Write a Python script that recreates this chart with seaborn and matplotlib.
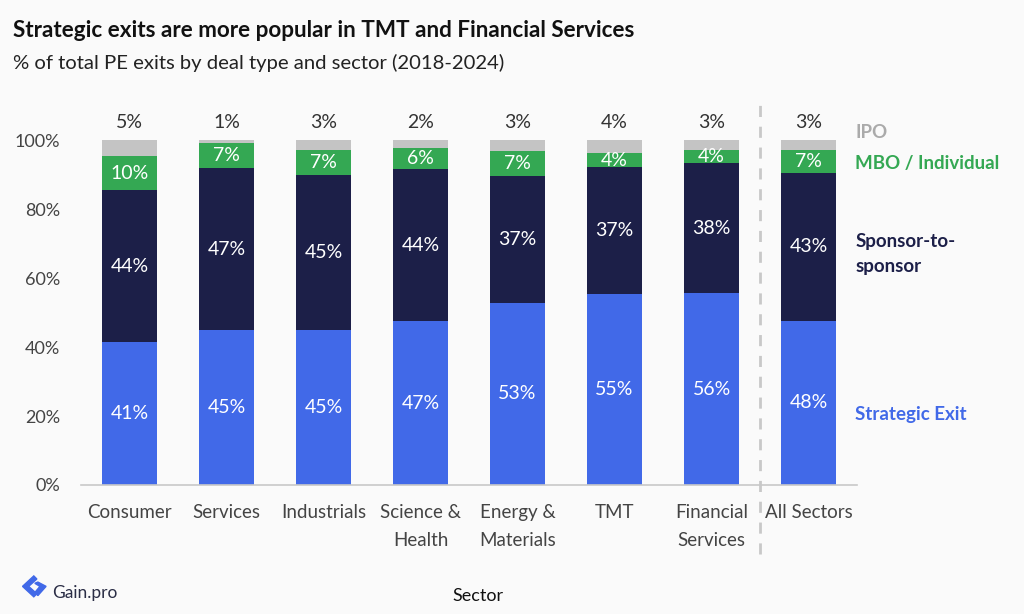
import pandas as pd
import seaborn as sns
import matplotlib.pyplot as plt
from matplotlib.patches import Polygon

# data (share of exits, %)
sectors = ["Consumer", "Services", "Industrials", "Science &\nHealth",
           "Energy &\nMaterials", "TMT", "Financial\nServices", "All Sectors"]
strategic = [41.4, 44.9, 45.0, 47.4, 52.8, 55.4, 55.6, 47.6]
sponsor = [44.1, 47.0, 45.0, 44.2, 36.8, 36.8, 37.8, 42.8]
mbo = [9.8, 7.2, 7.2, 6.2, 7.2, 4.0, 3.6, 6.6]
ipo = [4.7, 0.9, 2.8, 2.2, 3.2, 3.8, 3.0, 3.0]

c_strat = "#4169e8"
c_spons = "#1c1f48"
c_mbo = "#34a853"
c_ipo = "#c4c4c4"
bg = "#fafafa"

df = pd.DataFrame({"sector": sectors, "strategic": strategic, "sponsor": sponsor,
                   "mbo": mbo, "ipo": ipo})
df["lvl2"] = df["strategic"] + df["sponsor"]
df["lvl3"] = df["lvl2"] + df["mbo"]
df["lvl4"] = df["lvl3"] + df["ipo"]

sns.set_style("white")
plt.rcParams["font.family"] = ["Lato", "DejaVu Sans"]

fig = plt.figure(figsize=(10.24, 6.14), dpi=100, facecolor=bg)
ax = fig.add_axes([0.079, 0.2101, 0.758, 0.618])
ax.set_facecolor(bg)

# stacked bars drawn as overlapping cumulative totals
for col, colr in [("lvl4", c_ipo), ("lvl3", c_mbo), ("lvl2", c_spons), ("strategic", c_strat)]:
    sns.barplot(data=df, x="sector", y=col, color=colr, width=0.56, saturation=1,
                ax=ax, linewidth=0)

# segment labels
lab_fs = 14
for i, row in df.iterrows():
    ax.text(i, row["strategic"] / 2, f"{round(row['strategic'])}%", ha="center", va="center",
            color="white", fontsize=lab_fs)
    ax.text(i, row["strategic"] + row["sponsor"] / 2, f"{round(row['sponsor'])}%", ha="center",
            va="center", color="white", fontsize=lab_fs)
    ax.text(i, row["lvl2"] + row["mbo"] / 2, f"{round(row['mbo'])}%", ha="center",
            va="center", color="white", fontsize=lab_fs)
    ax.text(i, row["lvl4"] + 5, f"{round(row['ipo'])}%", ha="center", va="center",
            color="#333333", fontsize=lab_fs)

# series names on the right
lx = 7.48
leg_fs = 13.5
ax.text(lx, 102.3, "IPO", color="#aaaaaa", fontsize=leg_fs, fontweight="bold", va="center")
ax.text(lx, 93.3, "MBO / Individual", color=c_mbo, fontsize=leg_fs, fontweight="bold", va="center")
ax.text(lx, 67, "Sponsor-to-\nsponsor", color=c_spons, fontsize=leg_fs, fontweight="bold",
        va="center", linespacing=1.55)
ax.text(lx, 20.3, "Strategic Exit", color=c_strat, fontsize=leg_fs, fontweight="bold", va="center")

# dashed divider before the total
ax.plot([6.5, 6.5], [-20, 112], ls=(0, (4, 3.5)), color="#c8c8c8", lw=2, clip_on=False)

ax.set_xlim(-0.5, 7.5)
ax.set_ylim(0, 110)
ax.set_yticks([0, 20, 40, 60, 80, 100])
ax.set_yticklabels([f"{v}%" for v in [0, 20, 40, 60, 80, 100]])
ax.set_xticks(range(len(sectors)))
ax.set_xticklabels(sectors, linespacing=1.75)
ax.set_xticks([i - 0.5 for i in range(len(sectors) + 1)], minor=True)
ax.tick_params(axis="x", which="major", length=0, pad=14, labelsize=13.5, labelcolor="#444444")
ax.tick_params(axis="x", which="minor", length=5, color="#c8c8c8", width=1)
ax.tick_params(axis="y", length=0, pad=15, labelsize=13, labelcolor="#444444")
ax.set_xlabel("")
ax.set_ylabel("")
sns.despine(ax=ax, left=True)
ax.spines["bottom"].set_color("#c8c8c8")
ax.spines["bottom"].set_linewidth(1.2)

fig.text(0.013, 0.951, "Strategic exits are more popular in TMT and Financial Services",
         fontsize=16.2, fontweight="bold", color="#111111", va="center")
fig.text(0.013, 0.898, "% of total PE exits by deal type and sector (2018-2024)",
         fontsize=14.6, color="#222222", va="center")
fig.text(0.467, 0.029, "Sector", fontsize=13, color="#111111", ha="center", va="center")

# small logo mark + brand text
fig.patches.append(Polygon([[0.022, 0.045], [0.033, 0.062], [0.036, 0.057], [0.028, 0.045],
                            [0.036, 0.033], [0.033, 0.028]], closed=True,
                           transform=fig.transFigure, color=c_strat))
fig.patches.append(Polygon([[0.037, 0.052], [0.045, 0.045], [0.037, 0.030], [0.034, 0.035],
                            [0.039, 0.045], [0.034, 0.050]], closed=True,
                           transform=fig.transFigure, color=c_strat))
fig.text(0.051, 0.034, "Gain.pro", fontsize=12.5, color="#2a2d45", va="center")

fig.savefig("out.png", dpi=100, facecolor=bg)
